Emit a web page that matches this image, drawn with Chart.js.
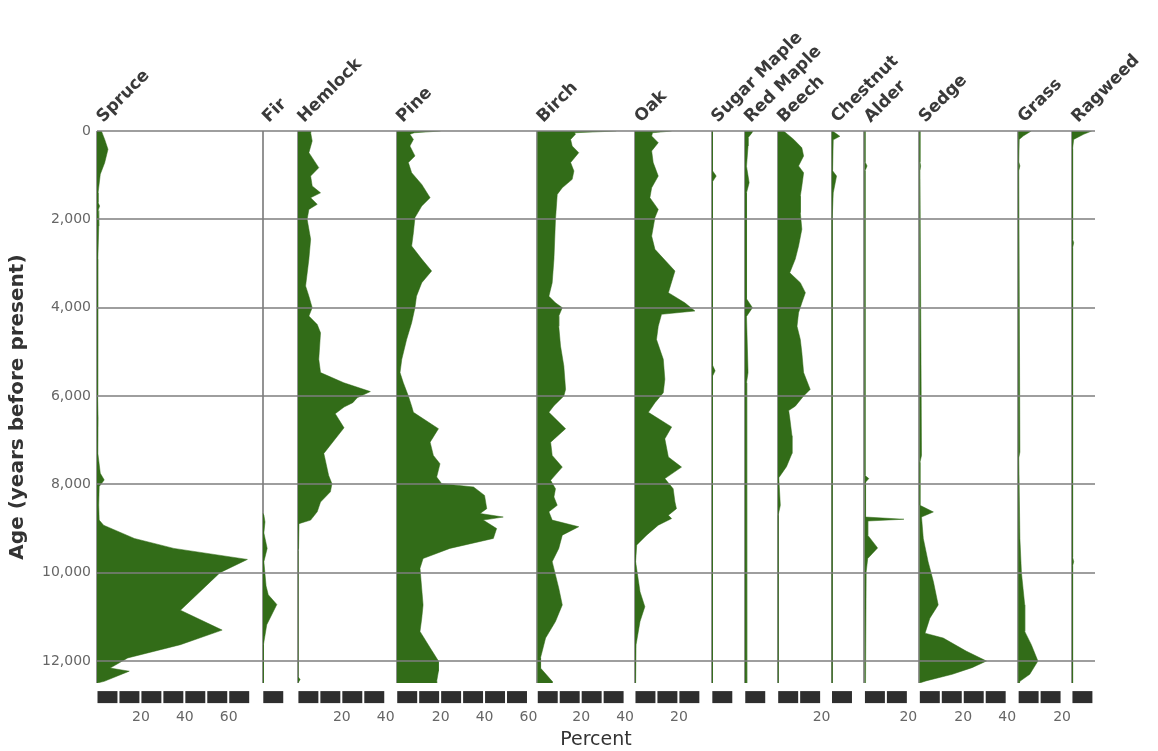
<!DOCTYPE html>
<html>
<head>
<meta charset="utf-8">
<title>Pollen diagram</title>
<script src="https://cdn.jsdelivr.net/npm/chart.js@4.4.1/dist/chart.umd.min.js"></script>
<style>
  html, body { margin: 0; padding: 0; background: #fff; }
  canvas { display: block; }
</style>
</head>
<body>
<canvas id="pollenChart" width="1158" height="751"></canvas>
<script>
// taxa in panel order, left to right
const taxa = ['Spruce', 'Fir', 'Hemlock', 'Pine', 'Birch', 'Oak', 'Sugar Maple',
  'Red Maple', 'Beech', 'Chestnut', 'Alder', 'Sedge', 'Grass', 'Ragweed'];

// [age (years before present), percent]
const spruce = [[0, 2], [190, 3.5], [415, 5], [720, 3.5], [980, 1.5], [1400, 0.5], [1620, 0.5], [1700, 1.2],
  [1800, 0.5], [2150, 0.8], [2900, 0.4], [4000, 0.3], [6000, 0.3], [6500, 0.5], [7300, 0.4], [7750, 1.5],
  [7900, 3.3], [8050, 1], [8470, 0.8], [8810, 1], [8925, 3], [9225, 17], [9450, 35], [9700, 68.5],
  [10000, 56], [10850, 38], [11300, 57], [11630, 38], [11930, 14], [12160, 6], [12230, 14.7],
  [12460, 3.3], [12500, 0]];
const fir = [[8650, 0], [8700, 0.5], [8850, 1], [9100, 0.5], [9450, 2], [9750, 0.5], [10300, 1.5],
  [10500, 2.5], [10720, 6.4], [11180, 1.8], [11630, 0.3], [12500, 0.3]];
const hemlock = [[0, 5.8], [40, 5.8], [225, 6.5], [490, 5], [830, 9.5], [1020, 5.8], [1245, 6.5],
  [1400, 10.3], [1510, 5.8], [1660, 8.8], [1775, 5], [2000, 4.2], [2450, 5.8], [2900, 5], [3510, 3.5],
  [3740, 5], [4000, 6.5], [4190, 5], [4380, 8.8], [4570, 10.3], [5170, 9.5], [5470, 10.3], [5700, 20.9],
  [5900, 33], [6040, 27], [6150, 25], [6250, 21], [6400, 17], [6720, 21], [7300, 11.8], [7800, 14],
  [7985, 15.5], [8170, 14.8], [8400, 10.3], [8620, 8.8], [8810, 5.8], [8890, 0.5], [9450, 0.3],
  [9500, 0], [12350, 0], [12420, 1], [12500, 0]];
const pine = [[0, 20], [40, 8], [75, 6], [190, 7.6], [340, 6], [565, 8.3], [715, 5.3], [945, 6.8],
  [1210, 11.4], [1510, 15.2], [1700, 11.4], [1960, 8.3], [2300, 7.6], [2605, 6.8], [2900, 11.4],
  [3170, 15.9], [3435, 11.4], [3740, 9], [4000, 8.3], [4340, 6.8], [4720, 4.5], [5170, 2.3], [5470, 1.5],
  [5700, 3], [6000, 5.3], [6230, 6.8], [6370, 7.6], [6740, 19], [7045, 15.2], [7345, 16.7], [7535, 19.7],
  [7835, 18.2], [7985, 20.5], [8060, 35], [8250, 40], [8550, 41], [8660, 38], [8740, 48.5], [8810, 39.4],
  [9000, 45.5], [9225, 44], [9450, 24.2], [9680, 12], [9900, 10.6], [10730, 12], [11030, 11.4],
  [11330, 10.6], [11700, 15.2], [12000, 19], [12230, 19], [12460, 18.2], [12500, 18.2]];
const birch = [[0, 36], [40, 17], [75, 17.4], [190, 15.2], [340, 15.9], [490, 18.9], [715, 15.2],
  [905, 16.7], [1095, 15.9], [1285, 11.4], [1435, 9.1], [2000, 8.3], [2900, 7.6], [3435, 6.8],
  [3740, 5.3], [3890, 8.3], [4000, 11.4], [4190, 9.8], [4420, 9.8], [4870, 10.6], [5320, 12.1],
  [5850, 12.9], [6000, 12.1], [6220, 7.6], [6370, 5.3], [6740, 12.9], [7045, 6.1], [7345, 6.8],
  [7610, 11.4], [7910, 6.1], [8100, 8.3], [8285, 7.6], [8475, 9.1], [8620, 5.3], [8810, 6.8],
  [8960, 18.9], [9150, 11.4], [9450, 9.8], [9750, 6.8], [10050, 8.3], [10350, 9.8], [10730, 11.4],
  [11105, 8.3], [11480, 3.8], [11925, 1.5], [12160, 1.5], [12460, 6.8], [12500, 6.8]];
const oak = [[0, 16.7], [40, 8], [115, 7.6], [265, 10.6], [450, 7.6], [715, 8.3], [1020, 10.6],
  [1285, 7.6], [1510, 6.8], [1775, 10.6], [1960, 9.1], [2380, 7.6], [2680, 9.1], [3170, 18.2],
  [3660, 15.2], [3890, 22.7], [4075, 27.3], [4150, 12.1], [4420, 10.6], [4720, 9.8], [5170, 12.9],
  [5620, 13.6], [5925, 12.9], [6150, 9.1], [6370, 6.1], [6700, 16.7], [6970, 13.6], [7380, 15.2],
  [7610, 21.2], [7870, 13.6], [8100, 17.4], [8400, 18.2], [8550, 18.9], [8700, 15.2], [8775, 16.7],
  [8925, 10.6], [9150, 5.3], [9375, 0.8], [9750, 0.3], [10430, 2.3], [10770, 4.5], [11105, 2.3],
  [11630, 0.5], [12500, 0.3]];
const sugarMaple = [[0, 0.3], [900, 0.3], [1020, 2], [1150, 0.3], [5300, 0.3], [5430, 1.5],
  [5550, 0.3], [12500, 0.3]];
const redMaple = [[0, 3.8], [60, 3], [150, 1.5], [340, 1.5], [800, 0.8], [1170, 2], [1400, 0.8],
  [3800, 0.8], [4000, 3.5], [4200, 0.8], [5470, 1.5], [5700, 0.8], [7345, 1], [12500, 0.8]];
const beech = [[0, 2.7], [190, 7.3], [380, 11], [565, 11.8], [790, 9.5], [945, 11.8], [1245, 11],
  [1475, 10.3], [1850, 10.3], [2225, 11], [2605, 9.5], [2900, 8], [3210, 5.5], [3435, 10.3],
  [3660, 12.6], [3890, 11], [4115, 9.5], [4420, 8.8], [4720, 10.3], [5020, 11], [5470, 11.8],
  [5850, 14.8], [6000, 11.8], [6230, 8], [6330, 5], [6500, 5.5], [6900, 6.5], [7300, 6.5], [7600, 4],
  [7850, 0.5], [8475, 1.2], [8700, 0.2], [12500, 0.2]];
const chestnut = [[0, 0.5], [120, 3.8], [200, 0.8], [900, 0.5], [1020, 2.3], [1400, 0.8], [2000, 0.3],
  [12500, 0.3]];
const alder = [[0, 0.3], [700, 0.3], [790, 1.2], [900, 0.3], [7800, 0.3], [7870, 2], [7950, 0.5],
  [8740, 0.5], [8790, 18], [8830, 1.5], [9150, 1.5], [9440, 6], [9680, 1.5], [9980, 0.8], [12500, 0.5]];
const sedge = [[0, 0.3], [700, 0.3], [790, 0.6], [900, 0.3], [7345, 1], [7500, 0.3], [8475, 0.3],
  [8625, 6.4], [8740, 1], [9225, 1.8], [9750, 4], [10200, 6.4], [10730, 8.6], [11030, 4.8],
  [11370, 2.6], [11480, 10.9], [11780, 21.5], [12000, 30.6], [12150, 24], [12300, 15], [12450, 3],
  [12500, 0]];
const grass = [[0, 6], [60, 4], [115, 2.3], [190, 0.5], [700, 0.3], [790, 0.8], [900, 0.3],
  [7270, 0.8], [7400, 0.3], [9225, 0.8], [10000, 1.5], [10730, 3], [11330, 3], [11630, 6],
  [12000, 9], [12300, 5.3], [12460, 0.8], [12500, 0.5]];
const ragweed = [[0, 9], [75, 5.3], [190, 0.8], [400, 0.3], [2450, 0.3], [2530, 0.8], [2650, 0.3],
  [9650, 0.3], [9750, 0.8], [9850, 0.3], [12500, 0.3]];

const series = [spruce, fir, hemlock, pine, birch, oak, sugarMaple, redMaple, beech, chestnut,
  alder, sedge, grass, ragweed];

// width of each panel in percent, and number of 10% blocks in its scale bar
const panelMax = [75.5, 16, 45, 64, 44.5, 35, 15, 15, 24.5, 15, 25, 45, 24.5, 10.5];
const barSegments = [7, 1, 4, 6, 4, 3, 1, 1, 2, 1, 2, 4, 2, 1];
const percentTicks = [0, 20, 40, 60];
const ageTicks = [0, 2000, 4000, 6000, 8000, 10000, 12000];
const ageMax = 12500;

const green = 'rgb(50, 108, 24)';
const fontFamily = '"DejaVu Sans", "Open Sans", sans-serif';

// names above the panels and the black scale bars below them
const panelDecor = {
  id: 'panelDecor',
  afterDraw(chart) {
    const ctx = chart.ctx;
    const area = chart.chartArea;
    ctx.save();
    taxa.forEach((name, i) => {
      const scale = chart.scales['x' + i];
      ctx.fillStyle = '#2e2e2e';
      for (let k = 0; k < barSegments[i]; k++) {
        const a = scale.getPixelForValue(k * 10);
        const b = scale.getPixelForValue((k + 1) * 10);
        ctx.fillRect(a + 0.5, area.bottom + 8, b - a - 2, 12);
      }
      ctx.save();
      ctx.translate(scale.getPixelForValue(0) + 6, area.top - 8);
      ctx.rotate(-Math.PI / 4);
      ctx.font = 'bold 17px ' + fontFamily;
      ctx.fillStyle = '#3a3a3a';
      ctx.textAlign = 'left';
      ctx.textBaseline = 'alphabetic';
      ctx.fillText(name, 0, 0);
      ctx.restore();
    });
    ctx.restore();
  }
};

const scales = {
  y: {
    type: 'linear',
    position: 'left',
    reverse: true,
    min: 0,
    max: ageMax,
    afterBuildTicks: s => { s.ticks = ageTicks.slice().reverse().map(v => ({ value: v })); },
    afterFit: s => { s.width = 97; },
    // grid sits above the green fills, as in the original
    grid: { color: 'rgba(125, 125, 125, 0.75)', lineWidth: 2, drawTicks: false, z: 1 },
    border: { display: false },
    ticks: {
      padding: 6,
      color: '#666',
      font: { family: fontFamily, size: 14 },
      callback: v => v.toLocaleString('en-US')
    },
    title: {
      display: true,
      text: 'Age (years before present)',
      color: '#333',
      font: { family: fontFamily, size: 20, weight: 'bold' },
      padding: { top: 6, bottom: 0 }
    }
  }
};

taxa.forEach((name, i) => {
  scales['x' + i] = {
    type: 'linear',
    axis: 'x',
    position: 'bottom',
    stack: 'percent',
    stackWeight: panelMax[i],
    min: 0,
    max: panelMax[i],
    afterBuildTicks: s => {
      s.ticks = percentTicks.filter(v => v <= panelMax[i]).map(v => ({ value: v }));
    },
    afterFit: s => { s.height = 43; s.paddingLeft = 0; s.paddingRight = 0; },
    grid: {
      color: c => (c.tick && c.tick.value === 0 ? 'rgba(135, 135, 135, 0.9)' : 'rgba(0,0,0,0)'),
      lineWidth: 2,
      drawTicks: true,
      tickLength: 24,
      tickColor: 'rgba(0,0,0,0)'
    },
    border: { display: false },
    ticks: {
      padding: 2,
      maxRotation: 0,
      autoSkip: false,
      color: '#666',
      font: { family: fontFamily, size: 14 },
      callback: v => (v === 0 ? '' : String(v))
    }
  };
});

const datasets = series.map((points, i) => ({
  label: taxa[i],
  data: points.map(([age, pct]) => ({ x: pct, y: age })),
  xAxisID: 'x' + i,
  yAxisID: 'y',
  fill: 'origin',
  backgroundColor: green,
  borderColor: green,
  borderWidth: 0.5,
  pointRadius: 0,
  tension: 0
}));

new Chart(document.getElementById('pollenChart'), {
  type: 'line',
  data: { datasets },
  options: {
    responsive: false,
    animation: false,
    indexAxis: 'y',
    layout: { padding: { top: 131, right: 63, bottom: 0, left: 0 } },
    plugins: {
      legend: { display: false },
      tooltip: { enabled: false },
      title: {
        display: true,
        position: 'bottom',
        fullSize: false,
        text: 'Percent',
        color: '#333',
        font: { family: fontFamily, size: 19, weight: 'normal', lineHeight: 1.1 },
        padding: { top: 4, bottom: 0 }
      }
    },
    scales
  },
  plugins: [panelDecor]
});
</script>
</body>
</html>
